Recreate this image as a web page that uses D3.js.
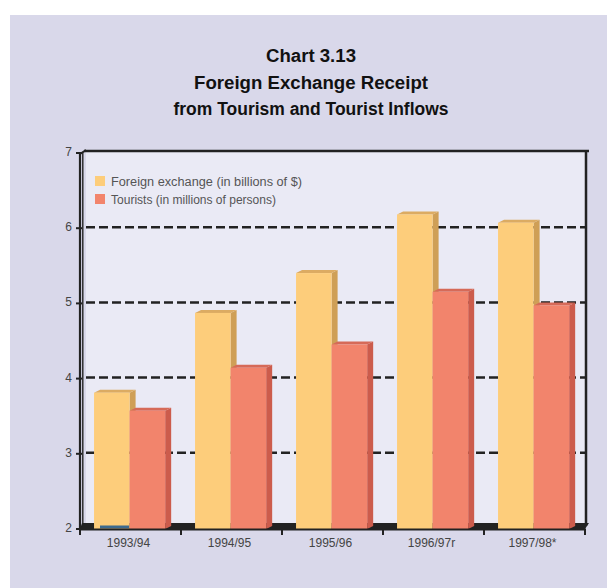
<!DOCTYPE html>
<html><head><meta charset="utf-8">
<script src="https://cdn.jsdelivr.net/npm/d3@7"></script>
<style>html,body{margin:0;padding:0;background:#fff;}svg{display:block;}</style>
</head><body>
<script>
const categories = ["1993/94","1994/95","1995/96","1996/97r","1997/98*"];
const seriesNames = ["Foreign exchange (in billions of $)","Tourists (in millions of persons)"];
const foreignExchange = [3.80, 4.86, 5.39, 6.17, 6.06];
const tourists = [3.56, 4.13, 4.44, 5.14, 4.96];
const yTicks = [2,3,4,5,6,7];
const titleLines = ["Chart 3.13","Foreign Exchange Receipt","from Tourism and Tourist Inflows"];

(function(){
const W=607,H=588;
const svg=d3.select("body").append("svg").attr("width",W).attr("height",H);
svg.append("rect").attr("x",10).attr("y",15).attr("width",W-10).attr("height",H-15).attr("fill","#d9d8ea");

const pL=80,pR=585,pT=152,pB=528;
const x0=d3.scaleBand().domain(categories).range([pL,pR]);
const x1=d3.scaleBand().domain(seriesNames).range([0,x0.bandwidth()]).paddingOuter(0.42).align(0.47);
const y=d3.scaleLinear().domain([2,7]).range([pB,pT]);

// back wall
svg.append("rect").attr("x",86).attr("y",pT).attr("width",pR-86).attr("height",pB-pT).attr("fill","#eaeaf5");

// title
const tl=[{w:90,y:62},{w:234,y:89},{w:275,y:115}];
svg.selectAll("text.title").data(titleLines).join("text").attr("class","title")
 .attr("x",311).attr("y",(d,i)=>tl[i].y).attr("text-anchor","middle")
 .attr("textLength",(d,i)=>tl[i].w).attr("lengthAdjust","spacingAndGlyphs")
 .attr("font-family","Liberation Sans, Arial, sans-serif").attr("font-weight","bold").attr("font-size",18).attr("fill","#111").text(d=>d);

// gridlines
svg.selectAll("line.grid").data(yTicks.filter(t=>t>2&&t<7)).join("line").attr("class","grid")
 .attr("x1",86).attr("x2",pR).attr("y1",d=>y(d)).attr("y2",d=>y(d))
 .attr("stroke","#222").attr("stroke-width",2.5).attr("stroke-dasharray","9,4");

// top and right border
svg.append("line").attr("x1",84).attr("x2",589).attr("y1",151).attr("y2",151).attr("stroke","#222").attr("stroke-width",2.5);
svg.append("line").attr("x1",586).attr("x2",586).attr("y1",150).attr("y2",526).attr("stroke","#222").attr("stroke-width",2.5);

// floor
svg.append("path").attr("d",`M82,523 L589,523 L585,529 L80,529 Z`).attr("fill","#222");

// legend
const legColors=["#fdcd7b","#f2846c"];
const lg=svg.append("g");
seriesNames.forEach((s,i)=>{
  lg.append("rect").attr("x",95).attr("y",176+i*18).attr("width",10).attr("height",10).attr("fill",legColors[i]);
  lg.append("text").attr("x",111).attr("y",186+i*17.5).attr("font-family","Liberation Sans, Arial, sans-serif").attr("font-size",12)
    .attr("fill","#555").attr("textLength",i==0?191:165).attr("lengthAdjust","spacingAndGlyphs").text(s);
});

// bars
const dx=6,dy=3;
const styles=[{front:"#fdcd7b",side:"#cf9f56",top:"#dcab62"},{front:"#f2846c",side:"#cc5c4c",top:"#d66a58"}];
const seriesVals=[foreignExchange,tourists];
const data=[];
categories.forEach((c,i)=>seriesNames.forEach((s,j)=>data.push({c,s,j,v:seriesVals[j][i]})));
const bars=svg.selectAll("g.bar").data(data).join("g").attr("class","bar");
bars.each(function(d){
  const g=d3.select(this);
  const bx=x0(d.c)+x1(d.s), bw=x1.bandwidth(), ty=y(d.v), by=y(2)+1;
  const st=styles[d.j];
  g.append("path").attr("d",`M${bx+bw},${ty} L${bx+bw+dx},${ty-dy} L${bx+bw+dx},${by-dy} L${bx+bw},${by} Z`).attr("fill",st.side);
  g.append("path").attr("d",`M${bx},${ty} L${bx+dx},${ty-dy} L${bx+bw+dx},${ty-dy} L${bx+bw},${ty} Z`).attr("fill",st.top);
  g.append("rect").attr("x",bx).attr("y",ty).attr("width",bw).attr("height",by-ty).attr("fill",st.front);
});
// decoration under first bar
svg.append("rect").attr("x",x0(categories[0])+20).attr("y",525.5).attr("width",29).attr("height",3).attr("fill","#3d6a8e");

// left axis (3D wall edges)
svg.append("line").attr("x1",80).attr("x2",80).attr("y1",153).attr("y2",530).attr("stroke","#222").attr("stroke-width",2.2);
svg.append("line").attr("x1",82.8).attr("x2",82.8).attr("y1",152).attr("y2",527).attr("stroke","#222").attr("stroke-width",1.4);
svg.append("line").attr("x1",80).attr("x2",86).attr("y1",154).attr("y2",150).attr("stroke","#222").attr("stroke-width",2);
// front axis
svg.append("line").attr("x1",79).attr("x2",586).attr("y1",529.5).attr("y2",529.5).attr("stroke","#222").attr("stroke-width",2);
const xt=categories.map(c=>x0(c)).concat([pR]);
svg.selectAll("line.xt").data(xt).join("line").attr("class","xt").attr("x1",d=>d).attr("x2",d=>d).attr("y1",529).attr("y2",535).attr("stroke","#222").attr("stroke-width",2);
svg.selectAll("line.yt").data(yTicks).join("line").attr("class","yt").attr("x1",76).attr("x2",82).attr("y1",d=>y(d)+1).attr("y2",d=>y(d)+1).attr("stroke","#222").attr("stroke-width",2);

svg.selectAll("text.yl").data(yTicks).join("text").attr("class","yl").attr("x",72).attr("y",d=>y(d)+4).attr("text-anchor","end")
 .attr("font-family","Liberation Sans, Arial, sans-serif").attr("font-size",12).attr("fill","#444").text(d=>d);
svg.selectAll("text.xl").data(categories).join("text").attr("class","xl").attr("x",d=>x0(d)+x0.bandwidth()/2-2).attr("y",547).attr("text-anchor","middle")
 .attr("font-family","Liberation Sans, Arial, sans-serif").attr("font-size",12).attr("fill","#444").text(d=>d);
})();
</script>
</body></html>
